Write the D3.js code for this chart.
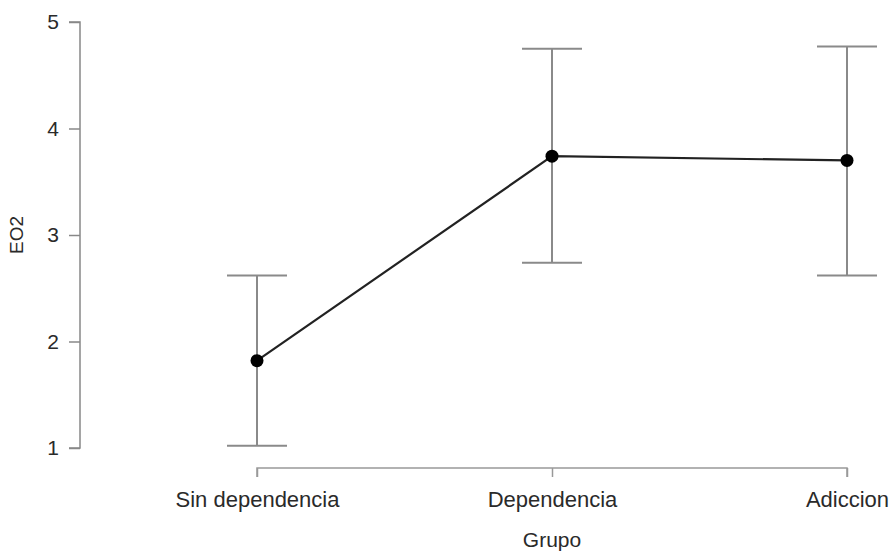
<!DOCTYPE html>
<html><head><meta charset="utf-8">
<script src="https://cdn.jsdelivr.net/npm/d3@7"></script>
<style>body{margin:0;background:#fff}svg{display:block}</style>
</head><body>
<svg id="c" width="891" height="551"></svg>
<script>
const categories = ["Sin dependencia", "Dependencia", "Adiccion"];
const means = [1.82, 3.74, 3.70];
const lower = [1.02, 2.74, 2.62];
const upper = [2.62, 4.75, 4.77];
const yTicks = [1, 2, 3, 4, 5];
const xTitle = "Grupo";
const yTitle = "EO2";

const svg = d3.select("#c");
const font = "'Liberation Sans', Arial, sans-serif";
const x = d3.scalePoint().domain(categories).range([257, 847]);
const y = d3.scaleLinear().domain([1, 5]).range([448, 22]);

const data = categories.map((c, i) => ({c, m: means[i], lo: lower[i], hi: upper[i]}));

// y axis
const ya = svg.append("g").attr("transform", "translate(80,0)")
  .call(d3.axisLeft(y).tickValues(yTicks).tickSize(11).tickPadding(10).tickFormat(d3.format("d")));
ya.select(".domain").attr("d", `M-11,${y(5)}H0V${y(1)}H-11`);
ya.selectAll("path,line").attr("stroke", "#888").attr("stroke-width", 1.5);
ya.selectAll("text").attr("font-family", font).attr("font-size", 21).attr("fill", "#2a2a2a");

// x axis
const xa = svg.append("g").attr("transform", "translate(0,468)")
  .call(d3.axisBottom(x).tickSize(9).tickPadding(14));
xa.select(".domain").attr("d", `M${x(categories[0])},9V0H${x(categories[2])}V9`);
xa.selectAll("path,line").attr("stroke", "#999").attr("stroke-width", 1.5);
xa.selectAll("text").attr("font-family", font).attr("font-size", 22).attr("fill", "#2a2a2a");

// titles
svg.append("text").attr("x", x(categories[1])).attr("y", 547).attr("text-anchor", "middle")
  .attr("font-family", font).attr("font-size", 21).attr("fill", "#2a2a2a").text(xTitle);
svg.append("text").attr("transform", `translate(23,${y(3)}) rotate(-90)`).attr("text-anchor", "middle")
  .attr("font-family", font).attr("font-size", 19).attr("fill", "#2a2a2a").text(yTitle);

// error bars
const eb = svg.append("g").attr("stroke", "#8a8a8a").attr("stroke-width", 2).attr("fill", "none");
eb.selectAll("line.v").data(data).join("line").attr("class", "v")
  .attr("x1", d => x(d.c)).attr("x2", d => x(d.c)).attr("y1", d => y(d.lo)).attr("y2", d => y(d.hi));
eb.selectAll("line.t").data(data).join("line").attr("class", "t")
  .attr("x1", d => x(d.c) - 30).attr("x2", d => x(d.c) + 30).attr("y1", d => y(d.hi)).attr("y2", d => y(d.hi));
eb.selectAll("line.b").data(data).join("line").attr("class", "b")
  .attr("x1", d => x(d.c) - 30).attr("x2", d => x(d.c) + 30).attr("y1", d => y(d.lo)).attr("y2", d => y(d.lo));

// line
svg.append("path").datum(data)
  .attr("d", d3.line().x(d => x(d.c)).y(d => y(d.m)))
  .attr("fill", "none").attr("stroke", "#222").attr("stroke-width", 2.2);

// points
svg.selectAll("circle").data(data).join("circle")
  .attr("cx", d => x(d.c)).attr("cy", d => y(d.m)).attr("r", 6.5).attr("fill", "#000");
</script>
</body></html>
